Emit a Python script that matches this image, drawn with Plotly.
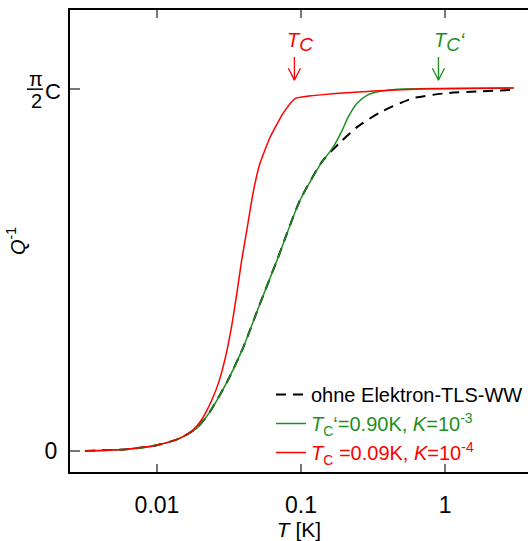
import numpy as np
import plotly.graph_objects as go

# ---- data ----
T_base = [0.00316, 0.0062, 0.01, 0.0138, 0.0162, 0.0189, 0.0209, 0.0233, 0.0306, 0.0396,
          0.0519, 0.068, 0.0984, 0.142, 0.187, 0.245, 0.354, 0.60, 1.03, 1.75, 3.0]
Q_base = [0.0, 0.005, 0.016, 0.032, 0.046, 0.063, 0.083, 0.108, 0.19, 0.285,
          0.407, 0.526, 0.693, 0.803, 0.853, 0.895, 0.936, 0.975, 0.989, 0.994, 0.998]

T_green = [0.00316, 0.0062, 0.01, 0.0138, 0.0162, 0.0189, 0.0209, 0.0233, 0.0306, 0.0396,
           0.0519, 0.068, 0.0984, 0.142, 0.158, 0.172, 0.193, 0.212, 0.245, 0.287, 0.354,
           0.465, 0.9, 3.0]
Q_green = [0.0, 0.005, 0.016, 0.032, 0.046, 0.063, 0.083, 0.108, 0.19, 0.285,
           0.407, 0.526, 0.693, 0.803, 0.826, 0.848, 0.886, 0.922, 0.961, 0.983, 0.994,
           1.0, 1.002, 1.003]

T_red = [0.00316, 0.0062, 0.01, 0.0138, 0.0162, 0.0180, 0.0199, 0.0218, 0.0240, 0.0270,
         0.0300, 0.0330, 0.0358, 0.0387, 0.0420, 0.0464, 0.0519, 0.0610, 0.0750, 0.091,
         0.209, 0.60, 3.0]
Q_red = [0.0, 0.005, 0.016, 0.032, 0.046, 0.060, 0.080, 0.106, 0.140, 0.193,
         0.262, 0.345, 0.434, 0.526, 0.609, 0.712, 0.795, 0.867, 0.933, 0.974,
         0.990, 1.0, 1.003]

Tc_red = 0.09
Tc_green = 0.90

x_ticks = [0.01, 0.1, 1]
x_ticklabels = ["0.01", "0.1", "1"]
y_ticks = [0, 1]

GREEN = "#1f8f1f"
RED = "#ff0000"
FONT = "Liberation Sans, Arial, sans-serif"

names = [
    "ohne Elektron-TLS-WW",
    f"<span style='color:{GREEN}'><i>T</i><sub>C</sub>\u2018=0.90K, <i>K</i>=10<sup>-3</sup></span>",
    f"<span style='color:{RED}'><i>T</i><sub>C</sub> =0.09K, <i>K</i>=10<sup>-4</sup></span>",
]

fig = go.Figure()
fig.add_trace(go.Scatter(x=T_base, y=Q_base, mode="lines", name=names[0],
                         line=dict(color="black", width=2, dash="10px,7px", shape="spline", smoothing=0.6)))
fig.add_trace(go.Scatter(x=T_green, y=Q_green, mode="lines", name=names[1],
                         line=dict(color=GREEN, width=1.5, shape="spline", smoothing=0.6)))
fig.add_trace(go.Scatter(x=T_red, y=Q_red, mode="lines", name=names[2],
                         line=dict(color=RED, width=1.5, shape="spline", smoothing=0.4)))

# arrows marking T_C
def arrow(tc, color):
    w = 10 ** 0.042
    y_top, y_tip, h = 1.089, 1.025, 0.033
    xs = [tc, tc, None, tc / w, tc, tc * w]
    ys = [y_top, y_tip, None, y_tip + h, y_tip, y_tip + h]
    fig.add_trace(go.Scatter(x=xs, y=ys, mode="lines", showlegend=False, hoverinfo="skip",
                             line=dict(color=color, width=1.3)))

arrow(Tc_red, RED)
arrow(Tc_green, GREEN)

ann = []
for tc, color, suffix, shift in [(Tc_red, RED, "", 6), (Tc_green, GREEN, "\u2018", 11)]:
    lx = np.log10(tc)
    ann.append(dict(x=lx, y=1.13, xref="x", yref="y",
                    text=f"<i>T</i><sub><span style='font-size:19px'><i>C</i></span></sub><i>{suffix}</i>",
                    showarrow=False, xanchor="center", yanchor="middle",
                    xshift=shift, font=dict(size=20, color=color, family=FONT)))

# pi/2 C tick label
for txt, xs, ys, sz in [("\u03c0", -34, 10, 20), ("2", -34, -12, 20), ("C", -17, -2, 22)]:
    ann.append(dict(x=0, y=1, xref="paper", yref="y", text=txt, showarrow=False,
                    xanchor="center", yanchor="middle",
                    xshift=xs, yshift=ys, font=dict(size=sz, color="black", family=FONT)))

fig.add_shape(type="line", xref="paper", yref="y", x0=(27 - 70) / 458, x1=(43 - 70) / 458,
              y0=1, y1=1, line=dict(color="black", width=1.5))

fig.update_layout(
    width=528, height=541,
    margin=dict(l=70, r=0, t=10, b=69),
    paper_bgcolor="white", plot_bgcolor="white",
    font=dict(family=FONT, size=23, color="black"),
    showlegend=True,
    legend=dict(x=1.0, xanchor="right", y=0.0, yanchor="bottom", bgcolor="rgba(0,0,0,0)",
                font=dict(size=20, family=FONT), tracegroupgap=0),
    annotations=ann,
)
fig.update_xaxes(type="log", range=[np.log10(0.00249), 0.576],
                 tickvals=x_ticks, ticktext=x_ticklabels,
                 ticks="inside", ticklen=8, tickwidth=1.5, tickcolor="#777777",
                 showline=True, linecolor="black", linewidth=2, mirror="ticks",
                 showgrid=False, zeroline=False,
                 tickfont=dict(size=23), ticklabelstandoff=11,
                 title=dict(text="<i>T</i> [K]", font=dict(size=21), standoff=9))
fig.update_yaxes(range=[-0.0582, 1.2188], tickvals=y_ticks, ticktext=["0", ""],
                 ticks="inside", ticklen=10, tickwidth=1.5, tickcolor="#777777",
                 showline=True, linecolor="black", linewidth=2, mirror=False,
                 showgrid=False, zeroline=False,
                 tickfont=dict(size=23), ticklabelstandoff=6,
                 title=dict(text="<i>Q</i><sup>-1</sup>", font=dict(size=20), standoff=14))

fig.write_html("out.html")
